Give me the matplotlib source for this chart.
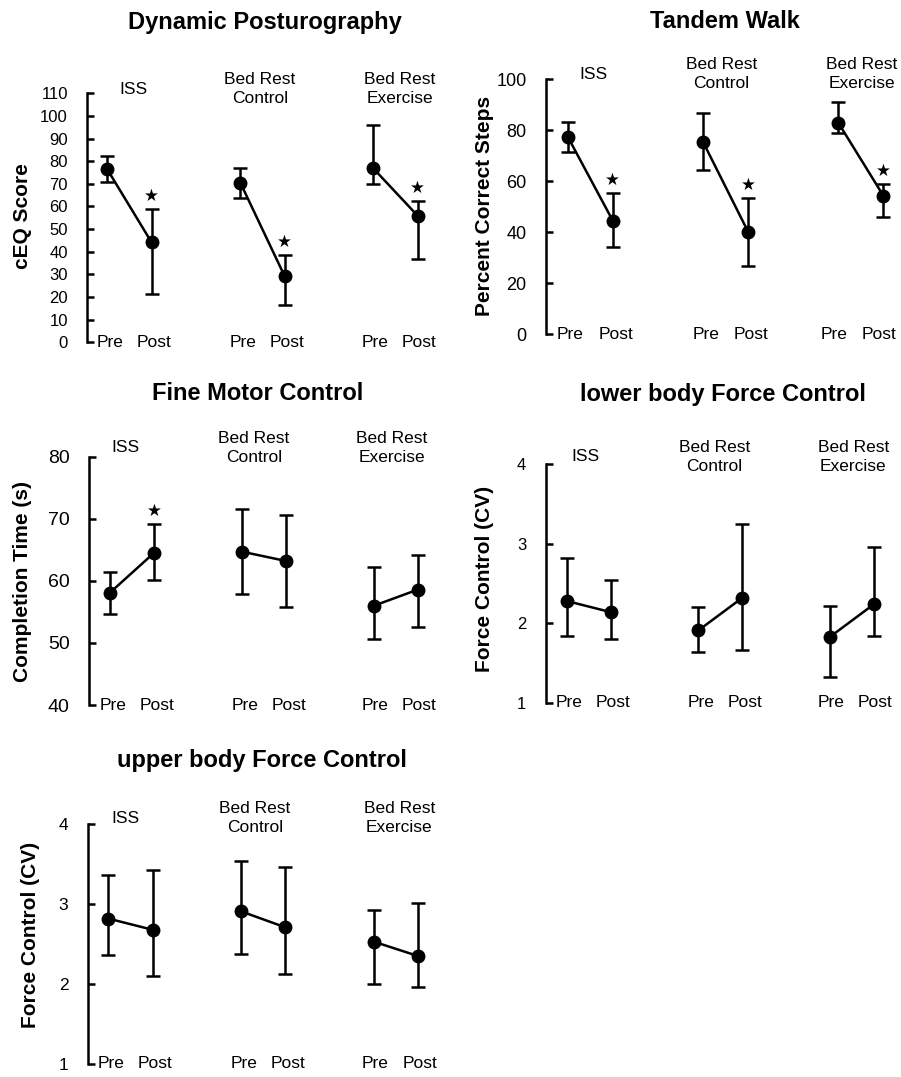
import numpy as np
import matplotlib
matplotlib.use("Agg")
import matplotlib.pyplot as plt

plt.rcParams['font.family'] = ['Liberation Sans', 'DejaVu Sans']

W, H = 901, 1077

groups = ['ISS', 'Bed Rest\nControl', 'Bed Rest\nExercise']
conditions = ['Pre', 'Post']

# values per group: [Pre, Post]
posturo_mean = [[76.4, 44.1], [70.5, 29.2], [76.8, 55.9]]
posturo_hi = [[82.3, 59.0], [76.8, 38.4], [96.2, 62.6]]
posturo_lo = [[70.7, 21.3], [63.9, 16.3], [70.0, 36.8]]
posturo_sig = [[0, 1], [0, 1], [0, 1]]

tandem_mean = [[77.4, 44.5], [75.4, 40.2], [82.9, 54.3]]
tandem_hi = [[83.3, 55.5], [86.6, 53.5], [91.1, 58.8]]
tandem_lo = [[71.3, 34.1], [64.4, 26.9], [79.0, 46.1]]
tandem_sig = [[0, 1], [0, 1], [0, 1]]

fine_mean = [[58.1, 64.5], [64.7, 63.2], [56.0, 58.6]]
fine_hi = [[61.5, 69.1], [71.6, 70.6], [62.2, 64.2]]
fine_lo = [[54.7, 60.1], [57.9, 55.8], [50.6, 52.6]]
fine_sig = [[0, 1], [0, 0], [0, 0]]

lower_mean = [[2.28, 2.14], [1.91, 2.32], [1.83, 2.24]]
lower_hi = [[2.82, 2.54], [2.20, 3.25], [2.22, 2.96]]
lower_lo = [[1.84, 1.80], [1.64, 1.66], [1.32, 1.84]]
lower_sig = [[0, 0], [0, 0], [0, 0]]

upper_mean = [[2.82, 2.68], [2.91, 2.71], [2.53, 2.35]]
upper_hi = [[3.36, 3.43], [3.54, 3.46], [2.93, 3.02]]
upper_lo = [[2.37, 2.10], [2.38, 2.13], [2.00, 1.96]]
upper_sig = [[0, 0], [0, 0], [0, 0]]

fig = plt.figure(figsize=(W / 100, H / 100), dpi=100)


def panel(left, top, bottom, unit, offset, ylim, yticks, tick_size,
          mean, hi, lo, sig, title, title_xy, ylabel, ylabel_xy,
          label_x, label_dy, last_dx=1.0):
    xmin = -offset / unit
    xmax = xmin + 8.0
    ax = fig.add_axes([left / W, 1 - bottom / H, unit * 8.0 / W, (bottom - top) / H])
    for g in range(3):
        xs = np.array([3 * g, 3 * g + 1])
        m = np.array(mean[g])
        err = [m - np.array(lo[g]), np.array(hi[g]) - m]
        ax.errorbar(xs, m, yerr=err, color='black', lw=1.8, elinewidth=1.8,
                    capsize=5, capthick=1.8, marker='o', markersize=9)
        for i in range(2):
            if sig[g][i]:
                ax.annotate('★', xy=(xs[i], hi[g][i]), xytext=(0, 3),
                            textcoords='offset points', ha='center', va='bottom',
                            fontsize=12, family=['DejaVu Sans'])
            dx = 2.0 if g < 2 else last_dx
            ax.annotate(conditions[i], xy=(xs[i], 0), xycoords=('data', 'axes fraction'),
                        xytext=(dx, 0), textcoords='offset points',
                        ha='center', va='center', fontsize=12.5)
        ax.annotate(groups[g], xy=(label_x[g], 1), xycoords=('data', 'axes fraction'),
                    xytext=(0, label_dy), textcoords='offset points',
                    ha='center', va='center', fontsize=12.5, linespacing=1.35)
    ax.set_xlim(xmin, xmax)
    ax.set_ylim(*ylim)
    ax.set_yticks(yticks)
    ax.set_xticks([])
    for s in ['top', 'right', 'bottom']:
        ax.spines[s].set_visible(False)
    ax.spines['left'].set_linewidth(1.8)
    ax.tick_params(axis='y', direction='in', length=5, width=1.8, pad=14,
                   labelsize=tick_size)
    ax.patch.set_alpha(0)
    fig.text(title_xy[0] / W, 1 - title_xy[1] / H, title, ha='center', va='center',
             fontsize=17, fontweight='bold')
    fig.text(ylabel_xy[0] / W, 1 - ylabel_xy[1] / H, ylabel, ha='center', va='center',
             rotation=90, fontsize=15, fontweight='bold')
    return ax


panel(87.3, 93.3, 342.3, 44.34, 20, (0, 110), np.arange(0, 111, 10), 12,
      posturo_mean, posturo_hi, posturo_lo, posturo_sig,
      'Dynamic Posturography', (265, 23), 'cEQ Score', (23, 216),
      [0.58, 3.44, 6.6], 3)

panel(546, 79, 334.3, 45.09, 21.7, (0, 100), np.arange(0, 101, 20), 13,
      tandem_mean, tandem_hi, tandem_lo, tandem_sig,
      'Tandem Walk', (725, 22), 'Percent Correct Steps', (484, 206),
      [0.58, 3.41, 6.52], 3.5, last_dx=-3)

panel(89, 456.7, 705, 44.0, 21, (40, 80), np.arange(40, 81, 10), 14,
      fine_mean, fine_hi, fine_lo, fine_sig,
      'Fine Motor Control', (258, 393), 'Completion Time (s)', (23, 581),
      [0.34, 3.27, 6.4], 6.5)

panel(545.7, 464.3, 702.7, 43.9, 21, (1, 4), np.arange(1, 5, 1), 12,
      lower_mean, lower_hi, lower_lo, lower_sig,
      'lower body Force Control', (723, 395), 'Force Control (CV)', (485, 579),
      [0.42, 3.37, 6.53], 5.5)

panel(87.7, 824.3, 1064, 44.29, 20.6, (1, 4), np.arange(1, 5, 1), 12.5,
      upper_mean, upper_hi, upper_lo, upper_sig,
      'upper body Force Control', (262, 760), 'Force Control (CV)', (31, 935),
      [0.38, 3.31, 6.57], 4.5)

fig.savefig('out.png', dpi=100, facecolor='white')
